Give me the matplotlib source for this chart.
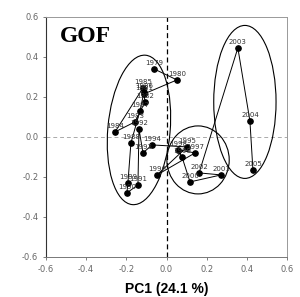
import numpy as np
import matplotlib
matplotlib.use('Agg')
import matplotlib.pyplot as plt
from matplotlib.patches import Ellipse

# PCA scores per year
years = list(range(1979, 2006))
pc1 = [-0.062, 0.052, -0.112, -0.107, -0.157, -0.256, -0.117, -0.112, -0.132,
       -0.177, -0.192, -0.197, -0.142, -0.137, -0.117, -0.072, 0.102, -0.047,
       0.142, 0.057, 0.077, 0.117, 0.272, 0.162, 0.355, 0.415, 0.430]
pc2 = [0.340, 0.285, 0.215, 0.175, 0.075, 0.025, 0.245, 0.225, 0.130,
       -0.030, -0.230, -0.280, -0.240, 0.040, -0.080, -0.040, -0.050, -0.190,
       -0.080, -0.065, -0.100, -0.225, -0.190, -0.180, 0.445, 0.080, -0.165]

# group ellipses: centre x, centre y, width, height, angle
ell_cx = [-0.137, 0.157, 0.390]
ell_cy = [0.035, -0.115, 0.175]
ell_w = [0.31, 0.31, 0.31]
ell_h = [0.75, 0.34, 0.765]
ell_ang = [-5, 0, 0]

ticks = [-0.6, -0.4, -0.2, 0.0, 0.2, 0.4, 0.6]

fig = plt.figure(figsize=(3.0, 2.97), dpi=100)
ax = fig.add_axes([0.153, 0.135, 0.804, 0.808])

ax.axhline(0, color='#aaaaaa', lw=0.7, ls=(0, (4, 3)), zorder=1)
ax.axvline(0, color='black', lw=0.9, ls=(0, (4, 2.5)), zorder=1)

for cx, cy, w, h, a in zip(ell_cx, ell_cy, ell_w, ell_h, ell_ang):
    ax.add_patch(Ellipse((cx, cy), w, h, angle=a, fill=False,
                         ec='black', lw=0.8, zorder=2))

ax.plot(pc1, pc2, color='black', lw=0.7, marker='o', ms=3.8, zorder=3)
for yr, x, y in zip(years, pc1, pc2):
    ax.annotate(str(yr), (x, y), xytext=(0, 2.2), textcoords='offset points',
                ha='center', va='bottom', fontsize=5, color='#333333')

ax.text(-0.53, 0.5, 'GOF', fontsize=17, fontweight='bold',
        family='Liberation Serif', ha='left', va='center')

ax.set_xlim(-0.6, 0.6)
ax.set_ylim(-0.6, 0.6)
ax.set_xticks(ticks)
ax.set_yticks(ticks)
ax.set_xticklabels([f'{t:.1f}' for t in ticks])
ax.set_yticklabels([f'{t:.1f}' for t in ticks])
ax.tick_params(labelsize=6, labelcolor='#666666', length=2.5, width=0.6,
               color='#666666', pad=3)
ax.set_xlabel('PC1 (24.1 %)', fontsize=10, fontweight='bold',
              family='Liberation Sans', labelpad=6)

for s in ['top', 'right']:
    ax.spines[s].set_color('#999999')
    ax.spines[s].set_linewidth(0.7)
ax.spines['bottom'].set_color('#777777')
ax.spines['bottom'].set_linewidth(0.7)
ax.spines['left'].set_color('#333333')
ax.spines['left'].set_linewidth(0.8)

fig.savefig('out.png', dpi=100)
